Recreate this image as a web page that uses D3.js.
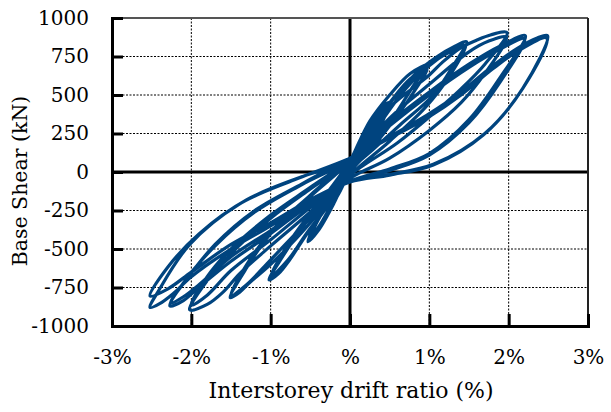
<!DOCTYPE html>
<html>
<head>
<meta charset="utf-8">
<script src="https://cdn.jsdelivr.net/npm/d3@7"></script>
<style>
  body { margin: 0; background: #fff; }
  text { font-family: "DejaVu Serif", serif; fill: #000; }
</style>
</head>
<body>
<div class="chart"></div>
<script>
// tick values and labels
let xTicks = [-3, -2, -1, 0, 1, 2, 3];
let xTickLabels = ["-3%", "-2%", "-1%", "%", "1%", "2%", "3%"];
let yTicks = [-1000, -750, -500, -250, 0, 250, 500, 750, 1000];

// hysteresis path: drift (%) and base shear (kN), point by point
let drift = [
  0,
  // 0.25% cycles
  0.1, 0.25, 0.15, 0, -0.12, -0.27, -0.15, 0,
  0.12, 0.25, 0.13, 0, -0.13, -0.27, -0.14, 0,
  // 0.5% cycles
  0.15, 0.32, 0.49, 0.36, 0.2, 0, -0.2, -0.4, -0.53, -0.42, -0.22, 0,
  0.18, 0.35, 0.48, 0.35, 0.18, 0, -0.2, -0.4, -0.52, -0.38, -0.2, 0,
  // 1% cycles
  0.25, 0.5, 0.76, 0.98, 0.8, 0.55, 0.3, 0, -0.29, -0.54, -0.76, -0.9, -1.02, -0.85, -0.6, -0.3, 0,
  0.25, 0.5, 0.76, 0.97, 0.78, 0.5, 0.25, 0, -0.3, -0.55, -0.78, -1.0, -0.82, -0.55, -0.28, 0,
  // 1.5% cycles
  0.2, 0.5, 0.84, 1.1, 1.3, 1.47, 1.3, 1.05, 0.63, 0.3, 0, -0.5, -1.0, -1.26, -1.39, -1.51, -1.3, -1.0, -0.5, 0,
  0.3, 0.7, 1.1, 1.3, 1.46, 1.25, 0.95, 0.5, 0, -0.5, -1.0, -1.3, -1.5, -1.3, -1.0, -0.5, 0,
  // 2% cycles
  0.2, 0.5, 1.0, 1.17, 1.39, 1.6, 1.77, 1.98, 1.7, 1.4, 1.05, 0.6, 0, -0.5, -1.0, -1.39, -1.6, -1.8, -2.02, -1.85, -1.5, -1.0, -0.5, 0,
  0.5, 1.0, 1.5, 1.75, 1.97, 1.7, 1.4, 1.0, 0.5, 0, -0.5, -1.0, -1.5, -1.8, -2.0, -1.8, -1.5, -1.0, -0.5, 0,
  // 2.25% cycles
  0.5, 1.0, 1.5, 1.9, 2.21, 1.9, 1.5, 1.0, 0.5, 0, -0.5, -1.0, -1.5, -1.93, -2.1, -2.27, -2.1, -1.7, -1.2, -0.6, 0,
  0.5, 1.0, 1.5, 1.9, 2.2, 1.9, 1.5, 1.0, 0.5, 0, -0.5, -1.0, -1.5, -1.9, -2.1, -2.26, -2.05, -1.7, -1.2, -0.6, 0,
  // 2.5% cycles
  0.5, 1.0, 1.4, 1.8, 2.1, 2.36, 2.49, 2.18, 1.68, 1.05, 0.5, 0, -0.5, -1.0, -1.5, -2.0, -2.23, -2.4, -2.52, -2.4, -2.02, -1.4, -0.7, 0,
  0.5, 1.0, 1.4, 1.8, 2.1, 2.48, 2.2, 1.7, 1.05, 0.5, 0, -0.5, -1.0, -1.5, -2.0, -2.3, -2.52, -2.3, -1.9, -1.3, -0.6, 0
];
let shear = [
  0,
  130, 280, 150, 20, -120, -250, -140, 40,
  150, 270, 120, 10, -130, -240, -120, 60,
  230, 370, 450, 290, 150, 20, -200, -380, -452, -330, -150, 60,
  240, 370, 435, 260, 110, 0, -180, -360, -430, -270, -110, 70,
  330, 500, 640, 695, 560, 360, 190, 20, -226, -400, -570, -660, -700, -550, -360, -150, 60,
  280, 450, 605, 670, 500, 300, 140, 0, -230, -400, -570, -680, -500, -300, -130, 70,
  240, 445, 645, 750, 810, 846, 690, 500, 305, 150, 10, -330, -600, -716, -780, -816, -620, -400, -160, 70,
  260, 540, 730, 790, 825, 620, 420, 200, -20, -300, -570, -730, -800, -600, -390, -150, 80,
  220, 420, 630, 715, 805, 857, 890, 905, 700, 540, 380, 190, -20, -260, -480, -660, -780, -860, -895, -740, -530, -300, -110, 70,
  350, 570, 780, 850, 875, 640, 450, 270, 90, -40, -230, -440, -640, -800, -865, -680, -500, -280, -100, 80,
  320, 520, 700, 820, 885, 620, 340, 120, 20, -60, -210, -400, -580, -760, -835, -870, -720, -480, -260, -80, 80,
  300, 500, 680, 800, 865, 590, 320, 110, 10, -60, -200, -380, -550, -730, -810, -850, -690, -470, -250, -75, 90,
  230, 380, 520, 690, 800, 870, 885, 545, 240, 45, -20, -65, -190, -350, -500, -680, -790, -855, -880, -760, -470, -210, -50, 90,
  220, 360, 500, 670, 780, 870, 560, 250, 50, -15, -60, -180, -330, -470, -650, -760, -805, -620, -400, -180, -30, 60
];

let svgW = 611;
let svgH = 412;
let margin = { top: 18, right: 23, bottom: 86, left: 112 };
let width = svgW - margin.left - margin.right;
let height = svgH - margin.top - margin.bottom;

let svg = d3.select(".chart")
  .append("svg")
  .attr("width", svgW)
  .attr("height", svgH);

let chartGroup = svg.append("g")
  .attr("transform", `translate(${margin.left}, ${margin.top})`);

let xScale = d3.scaleLinear().domain([-3, 3]).range([0, width]);
let yScale = d3.scaleLinear().domain([-1000, 1000]).range([height, 0]);

// dotted grid
chartGroup.append("g")
  .selectAll("line")
  .data(xTicks.filter(d => d !== 0 && Math.abs(d) !== 3))
  .enter()
  .append("line")
  .attr("x1", d => xScale(d)).attr("x2", d => xScale(d))
  .attr("y1", 0).attr("y2", height)
  .attr("stroke", "#000").attr("stroke-width", 1)
  .attr("stroke-dasharray", "2,1.5");

chartGroup.append("g")
  .selectAll("line")
  .data(yTicks.filter(d => d !== 0 && Math.abs(d) !== 1000))
  .enter()
  .append("line")
  .attr("x1", 0).attr("x2", width)
  .attr("y1", d => yScale(d)).attr("y2", d => yScale(d))
  .attr("stroke", "#000").attr("stroke-width", 1)
  .attr("stroke-dasharray", "2,1.5");

// zero lines
chartGroup.append("line")
  .attr("x1", xScale(0)).attr("x2", xScale(0))
  .attr("y1", 0).attr("y2", height)
  .attr("stroke", "#000").attr("stroke-width", 3);
chartGroup.append("line")
  .attr("x1", 0).attr("x2", width)
  .attr("y1", yScale(0)).attr("y2", yScale(0))
  .attr("stroke", "#000").attr("stroke-width", 3);

// the loops
let points = drift.map((d, i) => [d, shear[i]]);
let loopLine = d3.line()
  .x(d => xScale(d[0]))
  .y(d => yScale(d[1]))
  .curve(d3.curveCatmullRom.alpha(0.5));

chartGroup.append("path")
  .datum(points)
  .attr("d", loopLine)
  .attr("fill", "none")
  .attr("stroke", "#00447f")
  .attr("stroke-width", 3.2)
  .attr("stroke-linejoin", "round");

// frame: top and right thin, left and bottom heavy
chartGroup.append("line")
  .attr("x1", 0).attr("x2", width).attr("y1", 0).attr("y2", 0)
  .attr("stroke", "#555").attr("stroke-width", 2);
chartGroup.append("line")
  .attr("x1", width).attr("x2", width).attr("y1", 0).attr("y2", height)
  .attr("stroke", "#222").attr("stroke-width", 2);

// axes with inward ticks
let leftAxis = d3.axisLeft(yScale).tickValues(yTicks).tickSize(-11).tickPadding(23)
  .tickFormat(d => String(d));
let bottomAxis = d3.axisBottom(xScale).tickValues(xTicks).tickSize(-12).tickPadding(24)
  .tickFormat((d, i) => xTickLabels[i]);

let yAxisG = chartGroup.append("g").call(leftAxis);
let xAxisG = chartGroup.append("g")
  .attr("transform", `translate(0, ${height})`)
  .call(bottomAxis);

[yAxisG, xAxisG].forEach(g => {
  g.select(".domain").attr("stroke", "#000").attr("stroke-width", 3);
  g.selectAll(".tick line").attr("stroke", "#000").attr("stroke-width", 3);
  g.selectAll(".tick text")
    .style("font-family", "DejaVu Serif, serif")
    .style("font-size", "20px")
    .attr("fill", "#000");
});

// axis titles
svg.append("text")
  .attr("x", 351)
  .attr("y", 398)
  .attr("text-anchor", "middle")
  .style("font-size", "22px")
  .text("Interstorey drift ratio (%)");

svg.append("text")
  .attr("transform", "rotate(-90)")
  .attr("x", -181)
  .attr("y", 27)
  .attr("text-anchor", "middle")
  .style("font-size", "20.5px")
  .text("Base Shear (kN)");
</script>
</body>
</html>
